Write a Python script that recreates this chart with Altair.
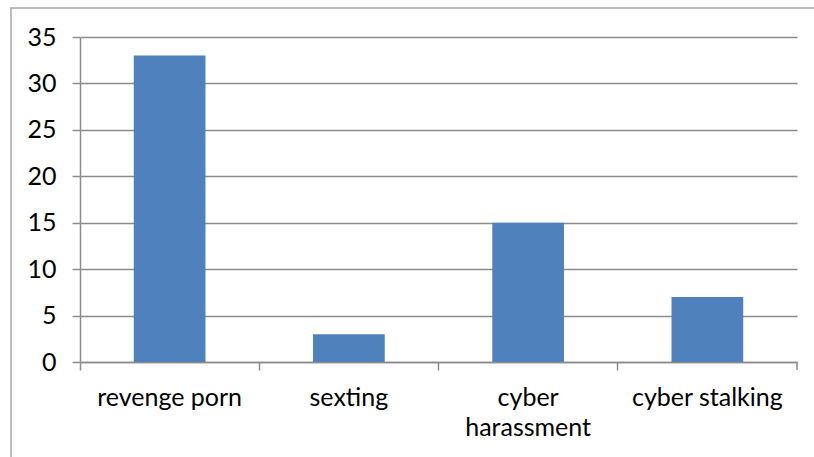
import altair as alt
import pandas as pd

categories = ["revenge porn", "sexting", "cyber harassment", "cyber stalking"]
values = [33, 3, 15, 7]

df = pd.DataFrame({"category": categories, "value": values})

GRAY = "#8c8c8c"
FONT = "Lato"

bars = alt.Chart(df).mark_bar(color="#4F81BD", width=alt.RelativeBandSize(0.4)).encode(
    x=alt.X("category:N", sort=categories, title=None,
            scale=alt.Scale(paddingInner=0, paddingOuter=0),
            axis=alt.Axis(labelAngle=0, bandPosition=0, tickSize=8, tickColor=GRAY,
                          domainColor=GRAY, labelFont=FONT, labelFontSize=25,
                          labelColor="#000000", labelPadding=15, labelLineHeight=30,
                          labelExpr="datum.label == 'cyber harassment' ? ['cyber', 'harassment'] : datum.label",
                          labelOffset=0, grid=False, tickWidth=1.5, domainWidth=1.5)),
    y=alt.Y("value:Q", title=None,
            scale=alt.Scale(domain=[0, 35], nice=False),
            axis=alt.Axis(values=[0, 5, 10, 15, 20, 25, 30, 35], tickSize=8, tickColor=GRAY,
                          domainColor=GRAY, gridColor=GRAY, gridWidth=1.5, tickWidth=1.5,
                          domainWidth=1.5, labelFont=FONT, labelFontSize=25,
                          labelColor="#000000", labelPadding=16)),
)

end_tick = alt.Chart(pd.DataFrame({"a": [0]})).mark_rule(color=GRAY, strokeWidth=1.5).encode(
    x=alt.value(717), y=alt.value(325), y2=alt.value(333)
)

border = alt.Chart(pd.DataFrame({"a": [0]})).mark_rect(
    fill=None, stroke="#a6a6a6", strokeWidth=1.5
).encode(
    x=alt.value(-69), x2=alt.value(760), y=alt.value(-29), y2=alt.value(500)
)

chart = alt.layer(bars, end_tick, border).properties(
    width=717, height=325,
    autosize=alt.AutoSizeParams(type="none"),
    padding={"left": 80, "top": 37, "right": 17, "bottom": 95},
    background="white",
).configure_view(stroke=None)

chart.save("out.html", embed_options={"renderer": "svg", "actions": False})
